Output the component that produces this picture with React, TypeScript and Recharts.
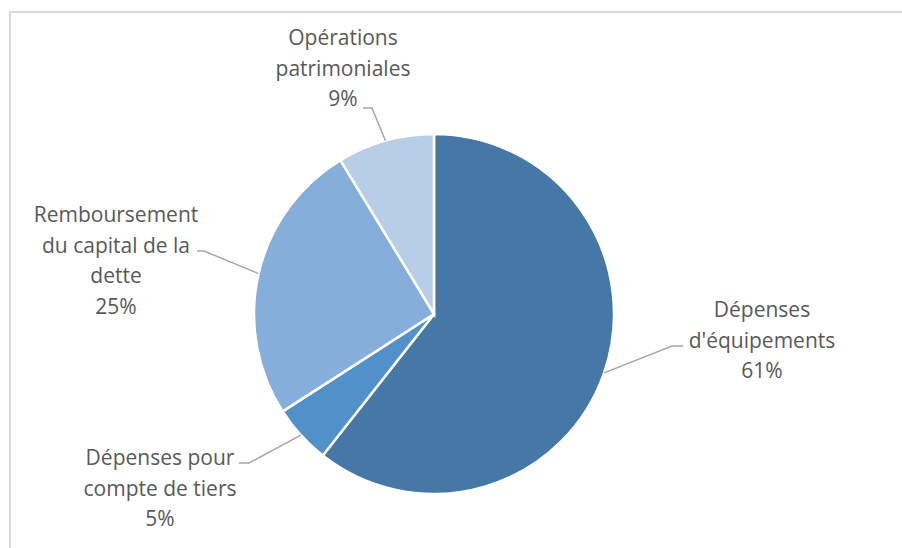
import React from 'react';
import { Pie, PieChart, Cell } from 'recharts';

// catégories et parts (en %)
const categories = [
  "Dépenses d'équipements",
  'Dépenses pour compte de tiers',
  'Remboursement du capital de la dette',
  'Opérations patrimoniales',
];
const shares = [60.6, 5.3, 25.4, 8.7];
const labelLines = [
  ['Dépenses', "d'équipements"],
  ['Dépenses pour', 'compte de tiers'],
  ['Remboursement', 'du capital de la', 'dette'],
  ['Opérations', 'patrimoniales'],
];

const COLORS = ['#4678A7', '#5190C8', '#86AEDB', '#B8CDE8'];

const data = categories.map((name, i) => ({ name, value: shares[i] }));

// placement des étiquettes, relatif au centre du camembert
// elbow = coude de la ligne de rappel, end = bout horizontal, text = centre du texte / 1re ligne
const LABEL_LAYOUT = [
  { elbow: [238, 32], end: [249, 32], text: [328, 3] },
  { elbow: [-185, 149], end: [-195, 149], text: [-274, 151] },
  { elbow: [-230, -63], end: [-237, -63], text: [-318, -92] },
  { elbow: [-62, -206], end: [-71, -206], text: [-91, -269] },
];

const LINE_H = 30.5;
const RAD = Math.PI / 180;

const renderLabel = (props: any) => {
  const { cx, cy, midAngle, outerRadius, index, percent } = props;
  const lay = LABEL_LAYOUT[index];
  const sx = cx + outerRadius * Math.cos(-midAngle * RAD);
  const sy = cy + outerRadius * Math.sin(-midAngle * RAD);
  const lines = [...labelLines[index], `${Math.round(percent * 100)}%`];
  return (
    <g>
      <polyline
        points={`${sx},${sy} ${cx + lay.elbow[0]},${cy + lay.elbow[1]} ${cx + lay.end[0]},${cy + lay.end[1]}`}
        fill="none"
        stroke="#A6A6A6"
        strokeWidth={1.5}
      />
      <text
        x={cx + lay.text[0]}
        y={cy + lay.text[1]}
        textAnchor="middle"
        fill="#595959"
        fontSize={21}
        fontFamily="'Open Sans', sans-serif"
      >
        {lines.map((l, i) => (
          <tspan key={i} x={cx + lay.text[0]} dy={i === 0 ? 0 : LINE_H}>
            {l}
          </tspan>
        ))}
      </text>
    </g>
  );
};

export default function App() {
  return (
    <div
      style={{
        position: 'absolute',
        left: 0,
        top: 0,
        width: 902,
        height: 548,
        background: '#fff',
      }}
    >
      <div
        style={{
          position: 'absolute',
          left: 9,
          top: 11,
          width: 900,
          height: 545,
          border: '2px solid #D9D9D9',
          boxSizing: 'border-box',
        }}
      />
      <PieChart
        width={902}
        height={548}
        margin={{ top: 0, right: 0, bottom: 0, left: 0 }}
        style={{ position: 'absolute', left: 0, top: 0 }}
      >
        <Pie
          data={data}
          dataKey="value"
          nameKey="name"
          cx={434}
          cy={314}
          outerRadius={180}
          startAngle={90}
          endAngle={-270}
          stroke="#FFFFFF"
          strokeWidth={2.5}
          label={renderLabel}
          labelLine={false}
          isAnimationActive={false}
        >
          {data.map((d, i) => (
            <Cell key={d.name} fill={COLORS[i]} />
          ))}
        </Pie>
      </PieChart>
    </div>
  );
}
